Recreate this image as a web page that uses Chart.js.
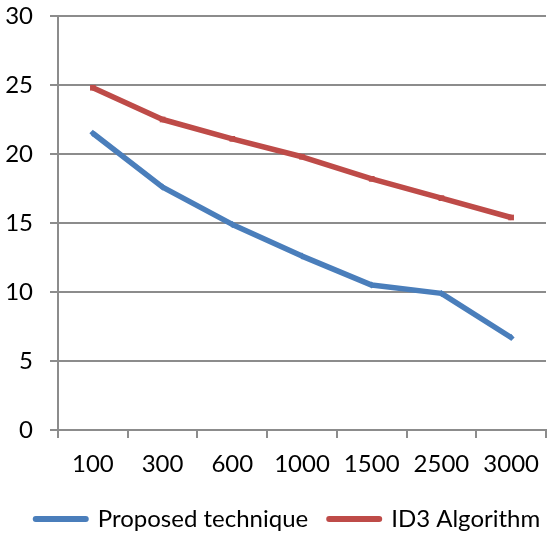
<!DOCTYPE html>
<html>
<head>
<meta charset="utf-8">
<script src="https://cdn.jsdelivr.net/npm/chart.js@4/dist/chart.umd.min.js"></script>
<style>
  html, body { margin: 0; padding: 0; background: #fff; }
  #wrap { width: 550px; height: 535px; }
</style>
</head>
<body>
<div id="wrap"><canvas id="c" width="550" height="535"></canvas></div>
<script>
// Sample sizes on the x axis
const categories = ['100', '300', '600', '1000', '1500', '2500', '3000'];
// Series values
const proposedValues = [21.5, 17.6, 14.9, 12.6, 10.5, 9.9, 6.7];
const id3Values = [24.8, 22.5, 21.1, 19.8, 18.2, 16.8, 15.4];
// Y axis range and step
const yMin = 0;
const yMax = 30;
const yStep = 5;

const BLUE = '#4A7EBB';
const RED = '#BE4B48';
const GRID = '#8C8C8C';
const FONT = 'Lato';

// Nudges the legend row a little to the right of the canvas centre
const legendShift = {
  id: 'legendShift',
  afterLayout(chart) {
    if (chart.legend) {
      chart.legend.left += 13;
      chart.legend.right += 13;
    }
  }
};

new Chart(document.getElementById('c'), {
  type: 'line',
  plugins: [legendShift],
  data: {
    labels: categories,
    datasets: [
      {
        label: 'Proposed technique',
        data: proposedValues,
        borderColor: BLUE,
        backgroundColor: BLUE,
        borderWidth: 5.5,
        pointStyle: 'rectRot',
        pointRadius: 3.5,
        pointBorderWidth: 0,
        tension: 0,
        borderJoinStyle: 'round'
      },
      {
        label: 'ID3 Algorithm',
        data: id3Values,
        borderColor: RED,
        backgroundColor: RED,
        borderWidth: 5.5,
        pointStyle: 'rect',
        pointRadius: 4,
        pointBorderWidth: 0,
        tension: 0,
        borderJoinStyle: 'round'
      }
    ]
  },
  options: {
    responsive: false,
    animation: false,
    devicePixelRatio: 1,
    layout: { padding: { top: 16, right: 0, left: 0, bottom: -6 } },
    plugins: {
      tooltip: { enabled: false },
      legend: {
        position: 'bottom',
        labels: {
          usePointStyle: true,
          pointStyleWidth: 50,
          padding: 21,
          color: '#000',
          font: { family: FONT, size: 24 },
          generateLabels(chart) {
            const items = Chart.defaults.plugins.legend.labels.generateLabels(chart);
            items.forEach((item) => {
              const ds = chart.data.datasets[item.datasetIndex];
              item.pointStyle = 'line';
              item.strokeStyle = ds.borderColor;
              item.fillStyle = ds.borderColor;
              item.lineWidth = 6;
              item.lineCap = 'round';
            });
            return items;
          }
        }
      }
    },
    scales: {
      x: {
        type: 'category',
        offset: true,
        grid: {
          offset: true,
          drawOnChartArea: false,
          drawTicks: true,
          tickLength: 8,
          color: GRID,
          lineWidth: 2
        },
        border: { color: GRID, width: 2 },
        ticks: {
          color: '#000',
          padding: 12,
          maxRotation: 0,
          autoSkip: false,
          font: { family: FONT, size: 24 }
        },
        afterFit(scale) {
          scale.height = 56;
          scale.paddingLeft = 0;
          scale.paddingRight = 0;
        }
      },
      y: {
        min: yMin,
        max: yMax,
        grid: {
          color: GRID,
          lineWidth: 2,
          tickLength: 8
        },
        border: { color: GRID, width: 2 },
        ticks: {
          stepSize: yStep,
          color: '#000',
          padding: 17,
          font: { family: FONT, size: 24 }
        },
        afterFit(scale) {
          scale.width = 58;
          scale.paddingTop = 0;
          scale.paddingBottom = 0;
        }
      }
    }
  }
});
</script>
</body>
</html>
